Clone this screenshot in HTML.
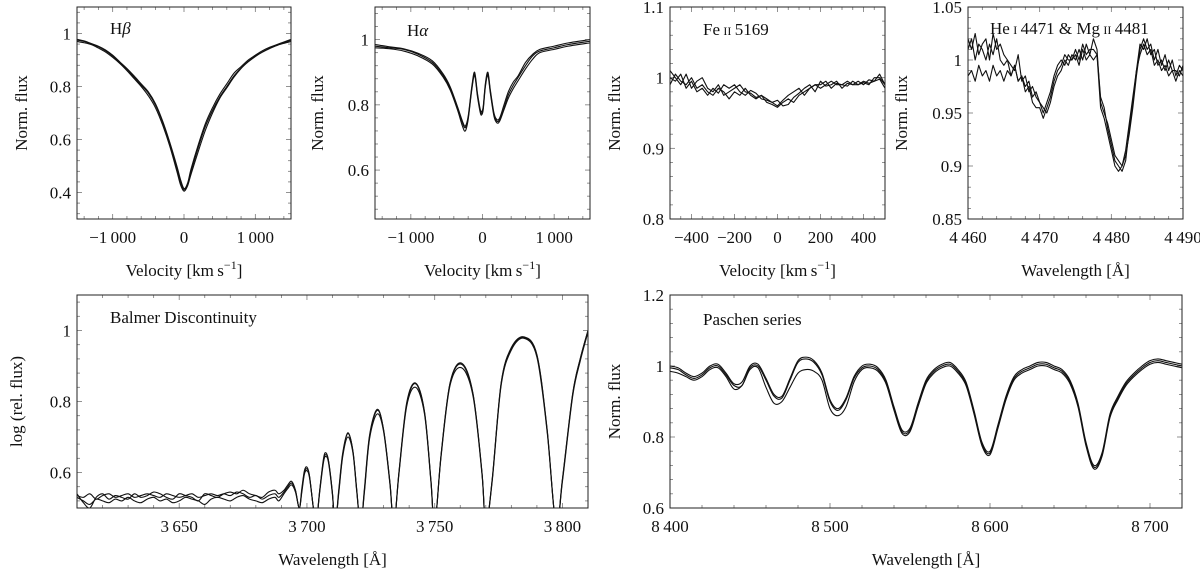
<!DOCTYPE html>
<html><head><meta charset="utf-8">
<style>
html,body{margin:0;padding:0;background:#fff;}
svg{display:block;font-family:"Liberation Serif",serif;}
</style></head>
<body>
<svg id="fig" width="1200" height="573" viewBox="0 0 1200 573" xmlns="http://www.w3.org/2000/svg"></svg>
<script>
// ---------- Hbeta ----------
const hbV = [-1500,-1400,-1300,-1200,-1100,-1000,-900,-800,-700,-600,-500,-400,-300,-200,-100,-50,0,50,100,200,300,400,500,600,700,800,900,1000,1100,1200,1300,1400,1500];
const hb1 = [.975,.97,.96,.95,.935,.915,.89,.865,.835,.805,.775,.73,.665,.585,.49,.44,.41,.43,.48,.57,.65,.71,.76,.80,.84,.87,.895,.915,.93,.945,.955,.965,.975];
const hb2 = [.97,.965,.958,.945,.93,.91,.887,.86,.83,.80,.765,.72,.655,.575,.48,.43,.405,.425,.47,.555,.635,.70,.755,.795,.835,.868,.893,.913,.93,.943,.955,.963,.97];
const hb3 = [.978,.972,.962,.952,.938,.918,.893,.868,.84,.81,.78,.735,.67,.59,.50,.45,.415,.435,.49,.58,.66,.72,.77,.81,.85,.875,.9,.918,.935,.948,.958,.968,.978];
// ---------- Halpha ----------
const haV = [-1500,-1300,-1100,-900,-700,-550,-450,-350,-280,-240,-200,-150,-110,-70,-30,-10,10,40,75,110,160,200,240,300,360,430,500,600,700,800,1000,1200,1500];
const ha1 = [.98,.975,.97,.955,.93,.89,.85,.79,.745,.73,.76,.85,.895,.83,.78,.775,.79,.86,.895,.84,.77,.75,.755,.79,.83,.86,.885,.92,.95,.965,.975,.985,.995];
const ha2 = [.975,.972,.965,.95,.925,.885,.845,.785,.735,.72,.755,.845,.89,.825,.775,.77,.785,.855,.89,.835,.765,.745,.75,.785,.82,.85,.875,.91,.94,.96,.97,.98,.99];
const ha3 = [.985,.978,.972,.958,.935,.895,.855,.795,.75,.735,.765,.855,.9,.835,.785,.78,.795,.865,.9,.845,.775,.755,.76,.8,.84,.87,.89,.93,.955,.97,.98,.99,1.0];
// ---------- Fe II ----------
const feV = [-500,-475,-450,-425,-400,-375,-350,-325,-300,-275,-250,-225,-200,-175,-150,-125,-100,-75,-50,-25,0,25,50,75,100,125,150,175,200,225,250,275,300,325,350,375,400,425,450,475,500];
const fe1 = [.99,1.005,.995,.99,1.0,.985,.99,.98,.975,.985,.98,.97,.98,.975,.985,.975,.97,.975,.965,.962,.958,.965,.97,.965,.975,.98,.985,.99,.985,.99,.995,.99,.99,.995,.99,.99,.995,.992,.995,1.005,.99];
const fe2 = [1.0,.995,1.005,.985,.995,.98,.985,.975,.985,.978,.99,.985,.99,.98,.975,.982,.978,.97,.968,.965,.968,.96,.962,.972,.978,.985,.99,.98,.995,.988,.99,.995,.985,.992,.99,.995,.99,.997,.995,.998,.985];
const fe3 = [1.01,1.0,.99,1.005,.985,.995,1.0,.985,.98,.99,.975,.98,.985,.99,.98,.978,.972,.975,.97,.965,.96,.968,.975,.98,.985,.975,.985,.99,.99,.995,.985,.992,.99,.988,.995,.99,.993,.99,1.0,1.0,.99];
// ---------- He I / Mg II ----------
const heW = [4460,4460.5,4461,4461.5,4462,4462.5,4463,4463.5,4464,4464.5,4465,4465.5,4466,4466.5,4467,4467.5,4468,4468.5,4469,4469.5,4470,4470.5,4471,4471.5,4472,4472.5,4473,4473.5,4474,4474.5,4475,4475.5,4476,4476.5,4477,4477.5,4478,4478.5,4479,4479.5,4480,4480.5,4481,4481.5,4482,4482.5,4483,4483.5,4484,4484.5,4485,4485.5,4486,4486.5,4487,4487.5,4488,4488.5,4489,4489.5,4490];
const he1 = [1.02,1.01,1.025,1.005,1.015,1.02,1.0,1.025,1.01,1.015,1.005, 1.0,.995,.99,1.005,.98,.985,.97,.975,.965,.96, .955,.95,.96,.975,.985,.99,1.0,.995, 1.005,1.0,1.01,1.0,1.015,1.005,1.02,1.01, .96,.95,.94,.925,.91,.905,.9,.91,.93,.955,.985,1.01, 1.02,1.01,1.015,1.0,1.01,.995,1.005,.99,1.0,.985,.995,.99];
const he2 = [1.01,1.02,1.0,1.015,1.01,1.0,1.015,1.005,1.02,1.0,.995, 1.0,.985,.995,.98,.985,.97,.975,.96,.955,.955, .945,.955,.965,.98,.99,.995,1.005,1.0, 1.0,1.01,1.0,1.015,1.005,1.01,1.01,1.005, .965,.955,.935,.92,.905,.9,.895,.905,.935,.96,.99,1.015, 1.01,1.02,1.005,1.01,.995,1.0,.99,1.0,.99,.99,.985,.995];
const he3 = [.985,.99,.98,.995,.985,.99,.98,.995,.985,.99,.98, .99,.985,.995,.98,.985,.975,.98,.965,.97,.96, .95,.96,.97,.985,.995,1.0,.995,1.005, 1.0,1.005,.995,1.01,1.0,1.005,1.0,1.005, .955,.945,.93,.915,.9,.895,.9,.915,.94,.965,.99,1.005, 1.015,1.005,1.01,.995,1.0,.99,.995,.985,.99,.98,.99,.985];
// ---------- Balmer discontinuity ----------
const bW = [3610,3612.5,3615,3617.5,3620,3622.5,3625,3627.5,3630,3632.5,3635,3637.5,3640,3642.5,3645,3647.5,3650,3652.5,3655,3657.5,3660,3662.5,3665,3667.5,3670,3672.5,3675,3677.5,3680,3682.5,3685,3687.5,3689,
 3691,3692.5,3694,3695.5,3697,3698,3699,3700,3701,3702.5,3703.5,3705,3706.5,3707.5,3708.5,3710,3711,3712.5,3714,3716,3718,3719.5,3721,3722.5,3724.5,3727.5,3730,3732.5,3734,3736,3739,3742.5,3746,3748.5,3750,3752.5,3756,3760.5,3765,3768.5,3770,3772.5,3776,3780,3785,3790,3794,3797.5,3800,3804,3807,3810];
const bF1 = [.535,.53,.54,.525,.535,.54,.53,.535,.54,.53,.535,.54,.535,.53,.54,.535,.53,.535,.54,.53,.535,.54,.535,.54,.535,.545,.54,.53,.535,.525,.535,.54,.53,
 .545,.56,.57,.55,.5,.55,.6,.61,.59,.5,.45,.55,.635,.65,.63,.54,.45,.55,.65,.71,.66,.55,.45,.55,.7,.775,.72,.57,.45,.6,.79,.85,.77,.58,.45,.65,.85,.905,.82,.6,.45,.58,.85,.95,.98,.93,.72,.45,.58,.82,.92,1.0];
const bF2 = [.53,.52,.51,.525,.52,.515,.525,.52,.53,.52,.515,.525,.53,.52,.525,.515,.52,.53,.525,.52,.51,.525,.53,.525,.52,.53,.535,.525,.52,.515,.525,.53,.52,
 .54,.555,.565,.545,.5,.545,.595,.605,.585,.5,.45,.545,.63,.645,.625,.535,.45,.545,.645,.70,.655,.545,.45,.545,.695,.765,.715,.565,.45,.595,.785,.84,.765,.575,.45,.645,.845,.895,.815,.595,.45,.575,.845,.945,.978,.925,.715,.45,.575,.815,.915,.995];
const bF3 = [.54,.515,.5,.53,.54,.525,.535,.53,.525,.54,.53,.535,.545,.54,.53,.525,.54,.535,.53,.52,.54,.535,.53,.54,.545,.54,.55,.54,.535,.53,.545,.55,.54,
 .55,.565,.575,.55,.5,.555,.605,.615,.59,.5,.45,.55,.64,.655,.63,.54,.45,.555,.655,.712,.66,.55,.45,.555,.705,.778,.72,.57,.45,.6,.795,.852,.772,.58,.45,.65,.852,.908,.822,.6,.45,.58,.852,.952,.982,.932,.722,.45,.582,.822,.922,1.0];
// ---------- Paschen ----------
const pW = [8400,8405,8410,8415,8420,8425,8430,8435,8440,8445,8450,8455,8460,8465,8470,8475,8480,8485,8490,8495,8500,8505,8510,8515,8520,8525,8530,8535,8540,8545,8550,8555,8560,8565,8570,8575,8580,8585,8590,8595,8600,8605,8610,8615,8620,8625,8630,8635,8640,8645,8650,8655,8660,8665,8670,8675,8680,8685,8690,8695,8700,8705,8710,8715,8720];
const pF1 = [.995,.99,.975,.965,.975,.995,1.0,.975,.945,.945,.995,1.0,.96,.915,.91,.96,1.01,1.02,1.01,.975,.9,.875,.905,.965,.995,1.0,.99,.955,.88,.815,.82,.89,.955,.985,1.0,1.005,.985,.95,.87,.78,.755,.83,.91,.965,.985,.995,1.005,1.005,.995,.985,.955,.89,.78,.715,.75,.86,.91,.95,.975,.995,1.01,1.015,1.01,1.005,1.0];
const pF2 = [.985,.98,.97,.96,.97,.99,.995,.97,.935,.945,.99,.995,.94,.895,.9,.94,.98,.99,.985,.96,.88,.86,.885,.955,.99,.995,.985,.95,.875,.81,.815,.885,.95,.98,.995,1.0,.98,.945,.865,.775,.75,.825,.905,.96,.98,.99,1.0,1.0,.99,.98,.95,.885,.775,.71,.745,.855,.905,.945,.97,.99,1.005,1.01,1.005,1.0,.995];
const pF3 = [1.0,.995,.98,.97,.98,1.0,1.005,.98,.95,.955,1.0,1.005,.965,.92,.915,.965,1.015,1.025,1.015,.98,.905,.88,.91,.97,1.0,1.005,.995,.96,.885,.82,.825,.895,.96,.99,1.005,1.01,.99,.955,.875,.785,.76,.835,.915,.97,.99,1.0,1.01,1.01,1.0,.99,.96,.895,.785,.72,.755,.865,.915,.955,.98,1.0,1.015,1.02,1.015,1.01,1.005];

// ---------- tick labels ----------
const velTicks = [-1000,0,1000];
const velLabels = ["\u22121\u2009000","0","1\u2009000"];
const hbYTicks = [0.4,0.6,0.8,1], hbYLabels = ["0.4","0.6","0.8","1"];
const haYTicks = [0.6,0.8,1], haYLabels = ["0.6","0.8","1"];
const feXTicks = [-400,-200,0,200,400], feXLabels = ["\u2212400","\u2212200","0","200","400"];
const feYTicks = [0.8,0.9,1,1.1], feYLabels = ["0.8","0.9","1","1.1"];
const heXTicks = [4460,4470,4480,4490], heXLabels = ["4\u2009460","4\u2009470","4\u2009480","4\u2009490"];
const heYTicks = [0.85,0.9,0.95,1,1.05], heYLabels = ["0.85","0.9","0.95","1","1.05"];
const bXTicks = [3650,3700,3750,3800], bXLabels = ["3\u2009650","3\u2009700","3\u2009750","3\u2009800"];
const bYTicks = [0.6,0.8,1], bYLabels = ["0.6","0.8","1"];
const pXTicks = [8400,8500,8600,8700], pXLabels = ["8\u2009400","8\u2009500","8\u2009600","8\u2009700"];
const pYTicks = [0.6,0.8,1,1.2], pYLabels = ["0.6","0.8","1","1.2"];

const NS = "http://www.w3.org/2000/svg";
const svg = document.getElementById('fig');
let clipId = 0;
function mk(tag, attrs, parent){
  const e = document.createElementNS(NS, tag);
  for (const k in attrs) e.setAttribute(k, attrs[k]);
  (parent||svg).appendChild(e);
  return e;
}
function smoothPath(P){
  let d = 'M' + P[0][0].toFixed(2) + ',' + P[0][1].toFixed(2);
  for (let i = 0; i < P.length - 1; i++){
    const p0 = P[i-1] || P[i], p1 = P[i], p2 = P[i+1], p3 = P[i+2] || P[i+1];
    const c1x = p1[0] + (p2[0]-p0[0])/6, c1y = p1[1] + (p2[1]-p0[1])/6;
    const c2x = p2[0] - (p3[0]-p1[0])/6, c2y = p2[1] - (p3[1]-p1[1])/6;
    d += ' C' + c1x.toFixed(2) + ',' + c1y.toFixed(2) + ' ' + c2x.toFixed(2) + ',' + c2y.toFixed(2) + ' ' + p2[0].toFixed(2) + ',' + p2[1].toFixed(2);
  }
  return d;
}
function panel(c){
  const g = mk('g', {});
  
  
  const sx = v => c.L + (v - c.xmin) / (c.xmax - c.xmin) * (c.R - c.L);
  const sy = v => c.B - (v - c.ymin) / (c.ymax - c.ymin) * (c.B - c.T);
  const tg = mk('g', {stroke:'#777','stroke-width':0.8}, g);
  
  
  const xs = c.xt[1]-c.xt[0], ys = c.yt[1]-c.yt[0];
  for (let v = c.xt[0] - xs*3; v <= c.xmax + 1e-9; v += xs/c.xm){
    if (v < c.xmin - 1e-9) continue;
    const major = Math.abs(((v - c.xt[0]) / xs) - Math.round((v - c.xt[0]) / xs)) < 1e-6;
    const len = major ? 5 : 3, X = sx(v);
    mk('line', {x1:X, y1:c.B, x2:X, y2:c.B-len}, tg);
    mk('line', {x1:X, y1:c.T, x2:X, y2:c.T+len}, tg);
  }
  for (let v = c.yt[0] - ys*3; v <= c.ymax + 1e-9; v += ys/c.ym){
    if (v < c.ymin - 1e-9) continue;
    const major = Math.abs(((v - c.yt[0]) / ys) - Math.round((v - c.yt[0]) / ys)) < 1e-6;
    const len = major ? 5 : 3, Y = sy(v);
    mk('line', {x1:c.L, y1:Y, x2:c.L+len, y2:Y}, tg);
    mk('line', {x1:c.R, y1:Y, x2:c.R-len, y2:Y}, tg);
  }
  const cid = 'clip' + (clipId++);
  const cp = mk('clipPath', {id:cid}, g);
  mk('rect', {x:c.L, y:c.T, width:c.R-c.L, height:c.B-c.T}, cp);
  const sg = mk('g', {'clip-path':'url(#'+cid+')', fill:'none', stroke:'#111', 'stroke-width':1.1, 'stroke-linejoin':'round'}, g);
  c.series.forEach((ys_, i) => {
    const P = c.x.map((xv, j) => [sx(xv), sy(ys_[j])]);
    let el;
    if (c.smooth) el = mk('path', {d: smoothPath(P)}, sg);
    else el = mk('polyline', {points: P.map(p => p[0].toFixed(2)+','+p[1].toFixed(2)).join(' ')}, sg);
    
    
  });
  const fr = mk('rect', {x:c.L, y:c.T, width:c.R-c.L, height:c.B-c.T, fill:'none', stroke:'#222', 'stroke-width':1}, g);
  
  
  c.xt.forEach((v, i) => {
    const t = mk('text', {x:sx(v), y:c.B+24, 'text-anchor':'middle', 'font-size':17, fill:'#111'}, g);
    t.textContent = c.xl[i];
    
    
  });
  c.yt.forEach((v, i) => {
    const t = mk('text', {x:c.L-6, y:sy(v)+6, 'text-anchor':'end', 'font-size':17, fill:'#111'}, g);
    t.textContent = c.yl[i];
    
    
  });
  const xt = mk('text', {x:(c.L+c.R)/2, y:c.xty, 'text-anchor':'middle', 'font-size':17, fill:'#111'}, g);
  xt.innerHTML = c.xtitle;
  
  
  const yt = mk('text', {transform:'translate('+c.ytx+','+((c.T+c.B)/2)+') rotate(-90)', 'text-anchor':'middle', 'font-size':17, fill:'#111'}, g);
  yt.textContent = c.ytitle;
  
  
  const lb = mk('text', {x:c.lx, y:c.ly, 'font-size':17, fill:'#111'}, g);
  lb.innerHTML = c.label;
  
  
}
const velTitle = 'Velocity [km\u2009s<tspan dy="-7" font-size="12">\u22121</tspan><tspan dy="7">]</tspan>';
const wavTitle = 'Wavelength [\u00c5]';

panel({name:'hbeta-panel', L:77, R:291, T:7, B:219, xmin:-1500, xmax:1500, ymin:0.3, ymax:1.1,
  xt:velTicks, xl:velLabels, xm:5, yt:hbYTicks, yl:hbYLabels, ym:5, smooth:true,
  x:hbV, series:[hb1,hb2,hb3], xtitle:velTitle, xty:276, ytitle:'Norm. flux', ytx:27,
  label:'H<tspan font-style="italic">\u03b2</tspan>', lx:110, ly:34});
panel({name:'halpha-panel', L:375, R:590, T:7, B:219, xmin:-1500, xmax:1500, ymin:0.45, ymax:1.1,
  xt:velTicks, xl:velLabels, xm:5, yt:haYTicks, yl:haYLabels, ym:5, smooth:true,
  x:haV, series:[ha1,ha2,ha3], xtitle:velTitle, xty:276, ytitle:'Norm. flux', ytx:323,
  label:'H<tspan font-style="italic">\u03b1</tspan>', lx:407, ly:36});
panel({name:'feii-panel', L:670, R:885, T:7, B:219, xmin:-500, xmax:500, ymin:0.8, ymax:1.1,
  xt:feXTicks, xl:feXLabels, xm:4, yt:feYTicks, yl:feYLabels, ym:5,
  x:feV, series:[fe1,fe2,fe3], xtitle:velTitle, xty:276, ytitle:'Norm. flux', ytx:620,
  label:'Fe\u2009<tspan font-size="12">II</tspan>\u20095169', lx:703, ly:35});
panel({name:'hei-mgii-panel', L:968, R:1183, T:7, B:219, xmin:4460, xmax:4490, ymin:0.85, ymax:1.05,
  xt:heXTicks, xl:heXLabels, xm:5, yt:heYTicks, yl:heYLabels, ym:5,
  x:heW, series:[he1,he2,he3], xtitle:wavTitle, xty:276, ytitle:'Norm. flux', ytx:907,
  label:'He\u2009<tspan font-size="12">I</tspan>\u20094471 &amp; Mg\u2009<tspan font-size="12">II</tspan>\u20094481', lx:990, ly:34});
panel({name:'balmer-panel', L:77, R:588, T:295, B:508, xmin:3610, xmax:3810, ymin:0.5, ymax:1.1,
  xt:bXTicks, xl:bXLabels, xm:5, yt:bYTicks, yl:bYLabels, ym:5, smooth:true,
  x:bW, series:[bF1,bF2,bF3], xtitle:wavTitle, xty:565, ytitle:'log (rel. flux)', ytx:22,
  label:'Balmer Discontinuity', lx:110, ly:323});
panel({name:'paschen-panel', L:670, R:1182, T:295, B:508, xmin:8400, xmax:8720, ymin:0.6, ymax:1.2,
  xt:pXTicks, xl:pXLabels, xm:5, yt:pYTicks, yl:pYLabels, ym:5, smooth:true,
  x:pW, series:[pF1,pF2,pF3], xtitle:wavTitle, xty:565, ytitle:'Norm. flux', ytx:620,
  label:'Paschen series', lx:703, ly:325});
</script>
</body></html>
